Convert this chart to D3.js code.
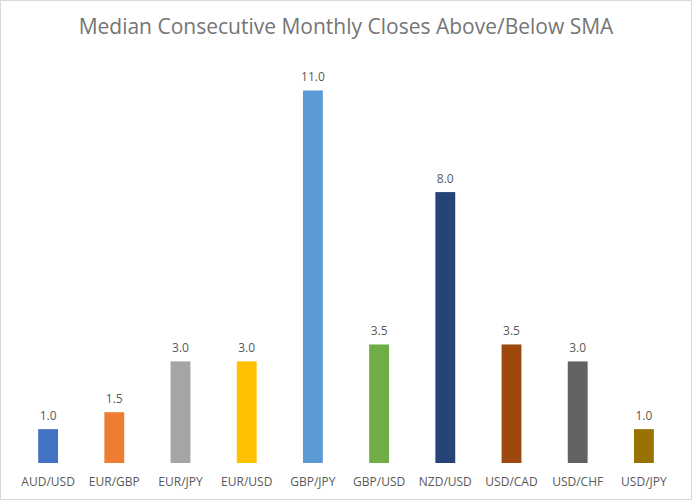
<!DOCTYPE html>
<html>
<head>
<meta charset="utf-8">
<script src="https://cdn.jsdelivr.net/npm/d3@7"></script>
<style>
  body { margin: 0; background: #fff; }
  svg { display: block; }
</style>
</head>
<body>
<svg id="chart"></svg>
<script>
"use strict";

// categorias (pares de moedas)
var pares = ["AUD/USD", "EUR/GBP", "EUR/JPY", "EUR/USD", "GBP/JPY",
             "GBP/USD", "NZD/USD", "USD/CAD", "USD/CHF", "USD/JPY"];

// mediana de fechamentos mensais consecutivos
var medianas = [1.0, 1.5, 3.0, 3.0, 11.0, 3.5, 8.0, 3.5, 3.0, 1.0];

// cores do tema do Office
var cores = ["#4472C4", "#ED7D31", "#A5A5A5", "#FFC000", "#5B9BD5",
             "#70AD47", "#264478", "#9E480E", "#636363", "#997300"];

var titulo = "Median Consecutive Monthly Closes Above/Below SMA";

var largura = 692, altura = 500;
var fonte = "'Open Sans', 'Noto Sans', sans-serif";

var svg = d3.select("#chart")
    .attr("width", largura)
    .attr("height", altura);

// fundo e moldura
svg.append("rect")
    .attr("x", 0.5).attr("y", 0.5)
    .attr("width", largura - 1).attr("height", altura - 1)
    .attr("fill", "#fff")
    .attr("stroke", "#d9d9d9");

svg.append("text")
    .attr("x", 346)
    .attr("y", 34)
    .attr("text-anchor", "middle")
    .attr("font-family", fonte)
    .attr("font-size", 21)
    .attr("fill", "#757575")
    .text(titulo);

var x = d3.scaleBand()
    .domain(pares)
    .range([15, 677])
    .paddingInner(0.7)
    .paddingOuter(0.35);

var y = d3.scaleLinear()
    .domain([0, 11])
    .range([463, 90.5]);

var dados = pares.map(function (p, i) {
    return { par: p, valor: medianas[i], cor: cores[i] };
});

svg.append("g")
    .selectAll("rect")
    .data(dados)
    .enter().append("rect")
    .attr("x", function (d) { return x(d.par); })
    .attr("y", function (d) { return y(d.valor); })
    .attr("width", x.bandwidth())
    .attr("height", function (d) { return y(0) - y(d.valor); })
    .attr("fill", function (d) { return d.cor; });

// rótulos de valores
svg.append("g")
    .selectAll("text")
    .data(dados)
    .enter().append("text")
    .attr("x", function (d) { return x(d.par) + x.bandwidth() / 2; })
    .attr("y", function (d) { return y(d.valor) - 9.5; })
    .attr("text-anchor", "middle")
    .attr("font-family", fonte)
    .attr("font-size", 12)
    .attr("fill", "#595959")
    .text(function (d) { return d.valor.toFixed(1); });

// eixo x sem linha nem marcas
var eixo = svg.append("g")
    .attr("transform", "translate(0,463)")
    .call(d3.axisBottom(x).tickSize(0).tickPadding(14.5));

eixo.select(".domain").remove();
eixo.selectAll("text")
    .attr("font-family", fonte)
    .attr("font-size", 12)
    .attr("fill", "#595959");
</script>
</body>
</html>
